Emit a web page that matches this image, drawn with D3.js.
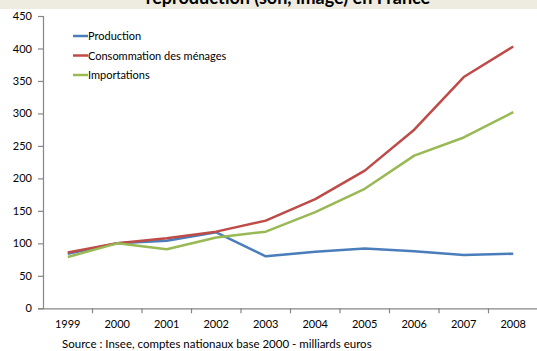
<!DOCTYPE html>
<html>
<head>
<meta charset="utf-8">
<script src="https://cdn.jsdelivr.net/npm/d3@7"></script>
<style>
  html, body { margin: 0; padding: 0; background: #fff; }
  svg { display: block; font-family: Lato, "Liberation Sans", sans-serif; }
</style>
</head>
<body>
<svg id="chart" width="537" height="351"></svg>
<script>
// Indices base 100 en 2000
const years = ["1999", "2000", "2001", "2002", "2003", "2004", "2005", "2006", "2007", "2008"];
const production = [84, 100, 104, 117, 80, 87, 92, 88, 82, 84];
const consommation = [86, 100, 108, 118, 135, 168, 212, 275, 356, 403];
const importations = [79, 100, 91, 109, 118, 148, 184, 235, 263, 302];
const seriesNames = ["Production", "Consommation des ménages", "Importations"];
const seriesColors = ["#4a7ebb", "#be4b48", "#98b954"];
const yTicks = [0, 50, 100, 150, 200, 250, 300, 350, 400, 450];

const svg = d3.select("#chart");
const W = 537, H = 351;
const plotLeft = 43, plotRight = 538, plotTop = 16, plotBottom = 308.3;

// Title band
svg.append("rect").attr("x", 0).attr("y", 0).attr("width", W).attr("height", 9)
  .attr("fill", "#eeece1");
svg.append("text").attr("x", 288).attr("y", 4)
  .attr("text-anchor", "middle").attr("font-size", 18).attr("font-weight", "bold")
  .attr("fill", "#000")
  .text("reproduction (son, image) en France");

const x = d3.scaleBand().domain(years).range([plotLeft, plotRight]);
const y = d3.scaleLinear().domain([0, 450]).range([plotBottom, plotTop]);

const axisColor = "#868686";

// Y axis
const yAxis = svg.append("g").attr("transform", `translate(${plotLeft},0)`)
  .call(d3.axisLeft(y).tickValues(yTicks).tickSize(5).tickPadding(6).tickFormat(d3.format("d")));
yAxis.select(".domain").attr("stroke", axisColor).attr("stroke-width", 1.2);
yAxis.selectAll(".tick line").attr("stroke", axisColor).attr("stroke-width", 1.2);
yAxis.selectAll("text").attr("font-size", 11).attr("fill", "#000")
  .attr("font-family", "Lato, 'Liberation Sans', sans-serif");

// X axis with ticks at category boundaries
const xAxis = svg.append("g").attr("transform", `translate(0,${plotBottom})`)
  .call(d3.axisBottom(x).tickSize(0).tickPadding(12).tickSizeOuter(0));
xAxis.select(".domain").attr("stroke", axisColor).attr("stroke-width", 1.2);
xAxis.selectAll("text").attr("font-size", 11).attr("fill", "#000")
  .attr("font-family", "Lato, 'Liberation Sans', sans-serif");
xAxis.selectAll(".boundary").data(years.slice(1)).join("line")
  .attr("class", "boundary")
  .attr("x1", d => x(d)).attr("x2", d => x(d))
  .attr("y1", 0).attr("y2", 5)
  .attr("stroke", axisColor).attr("stroke-width", 1.2);

// Lines
const line = d3.line().x((d, i) => x(years[i]) + x.bandwidth() / 2).y(d => y(d));
[production, consommation, importations].forEach((vals, i) => {
  svg.append("path").datum(vals)
    .attr("d", line)
    .attr("fill", "none")
    .attr("stroke", seriesColors[i])
    .attr("stroke-width", 2.5)
    .attr("stroke-linejoin", "round");
});

// Legend
const legend = svg.append("g").attr("transform", "translate(73,36)");
seriesNames.forEach((name, i) => {
  const g = legend.append("g").attr("transform", `translate(0,${i * 19.5})`);
  g.append("line").attr("x1", 0).attr("x2", 15).attr("y1", 0).attr("y2", 0)
    .attr("stroke", seriesColors[i]).attr("stroke-width", 2.5);
  g.append("text").attr("x", 15).attr("y", 4).attr("font-size", 11).attr("fill", "#000")
    .text(name);
});

// Source note
svg.append("text").attr("x", 62).attr("y", 348).attr("font-size", 11.5).attr("fill", "#000")
  .text("Source : Insee, comptes nationaux base 2000 - milliards euros");
</script>
</body>
</html>
